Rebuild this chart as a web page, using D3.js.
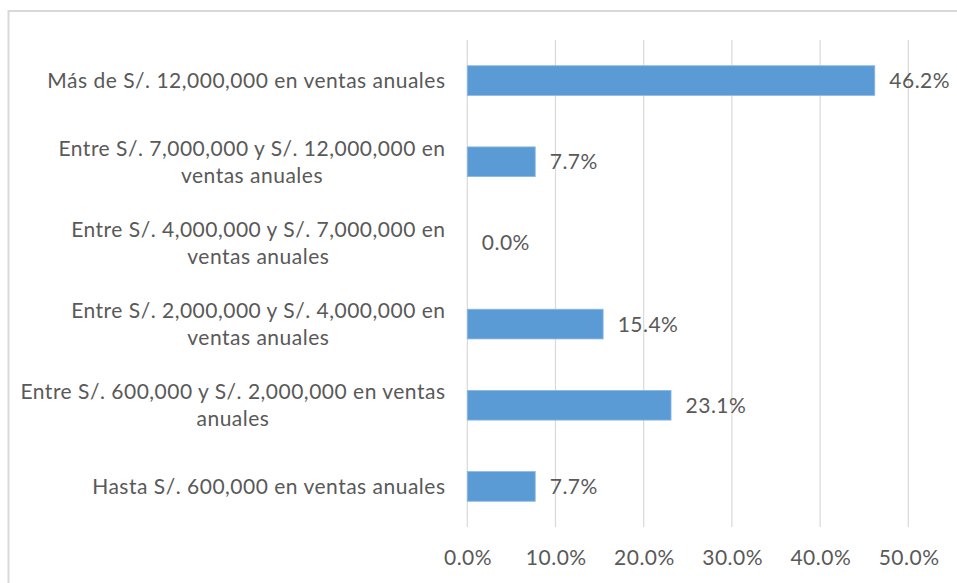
<!DOCTYPE html>
<html>
<head>
<meta charset="utf-8">
<script src="https://cdn.jsdelivr.net/npm/d3@7"></script>
<style>
  html, body { margin: 0; padding: 0; background: #fff; }
  svg { display: block; }
  text { font-family: Lato, "Open Sans", sans-serif; fill: #595959; letter-spacing: 0.5px; }
</style>
</head>
<body>
<svg id="chart" width="957" height="583"></svg>
<script>
// Category labels (top to bottom), each split into its wrapped lines
const categories = [
  ["Más de S/. 12,000,000 en ventas anuales"],
  ["Entre S/. 7,000,000 y S/. 12,000,000 en", "ventas anuales"],
  ["Entre S/. 4,000,000 y S/. 7,000,000 en", "ventas anuales"],
  ["Entre S/. 2,000,000 y S/. 4,000,000 en", "ventas anuales"],
  ["Entre S/. 600,000 y S/. 2,000,000 en ventas", "anuales"],
  ["Hasta S/. 600,000 en ventas anuales"]
];
// Share of companies per sales bracket (%)
const values = [46.2, 7.7, 0.0, 15.4, 23.1, 7.7];
// Axis ticks (%)
const tickValues = [0, 10, 20, 30, 40, 50];

const svg = d3.select("#chart");
const W = 957, H = 583;
const plot = { left: 467.3, right: 908.3, top: 40, bottom: 527 };
const fontSize = 21;
const lineH = 27;
const spacing = 0.5;

// Chart area frame
svg.append("rect")
  .attr("x", 8.5).attr("y", 11)
  .attr("width", W + 20).attr("height", H + 20)
  .attr("fill", "none").attr("stroke", "#d9d9d9").attr("stroke-width", 2);

const x = d3.scaleLinear().domain([0, 50]).range([plot.left, plot.right]);
const y = d3.scaleBand()
  .domain(d3.range(categories.length))
  .range([plot.top, plot.bottom])
  .paddingInner(0.634).paddingOuter(0.317);

// Vertical gridlines
svg.append("g")
  .selectAll("line")
  .data(tickValues)
  .join("line")
  .attr("x1", d => x(d)).attr("x2", d => x(d))
  .attr("y1", plot.top).attr("y2", plot.bottom)
  .attr("stroke", "#d9d9d9").attr("stroke-width", 1.2);

// Bars
svg.append("g")
  .selectAll("rect")
  .data(values)
  .join("rect")
  .attr("x", x(0))
  .attr("y", (d, i) => y(i))
  .attr("width", d => x(d) - x(0))
  .attr("height", y.bandwidth())
  .attr("fill", "#5b9bd5")
  .attr("stroke", d => d > 0 ? "#8ab8e3" : "none")
  .attr("stroke-width", 0.8);

// Value labels
svg.append("g")
  .selectAll("text")
  .data(values)
  .join("text")
  .attr("x", d => x(d) + 14.5)
  .attr("y", (d, i) => y(i) + y.bandwidth() / 2)
  .attr("dy", "0.36em")
  .attr("font-size", fontSize)
  .text(d => d.toFixed(1) + "%");

// Category labels: block right-aligned to the axis, lines centered within it
const labelRight = 445 + spacing;
const catG = svg.append("g");
categories.forEach((lines, i) => {
  const cy = y(i) + y.bandwidth() / 2;
  const g = catG.append("g");
  const texts = lines.map((line, j) =>
    g.append("text")
      .attr("font-size", fontSize)
      .attr("text-anchor", "middle")
      .attr("y", cy + (j - (lines.length - 1) / 2) * lineH)
      .attr("dy", "0.36em")
      .text(line));
  const maxW = d3.max(texts, t => t.node().getComputedTextLength());
  texts.forEach(t => t.attr("x", labelRight - maxW / 2));
});

// Bottom axis tick labels
const axis = d3.axisBottom(x)
  .tickValues(tickValues)
  .tickSize(0)
  .tickPadding(0)
  .tickFormat(d => d.toFixed(1) + "%");
const axG = svg.append("g")
  .attr("transform", `translate(${spacing / 2},${plot.bottom + 23})`)
  .call(axis);
axG.select(".domain").remove();
axG.selectAll("text")
  .attr("font-size", fontSize)
  .attr("font-family", "Lato, 'Open Sans', sans-serif")
  .attr("fill", "#595959");
</script>
</body>
</html>
